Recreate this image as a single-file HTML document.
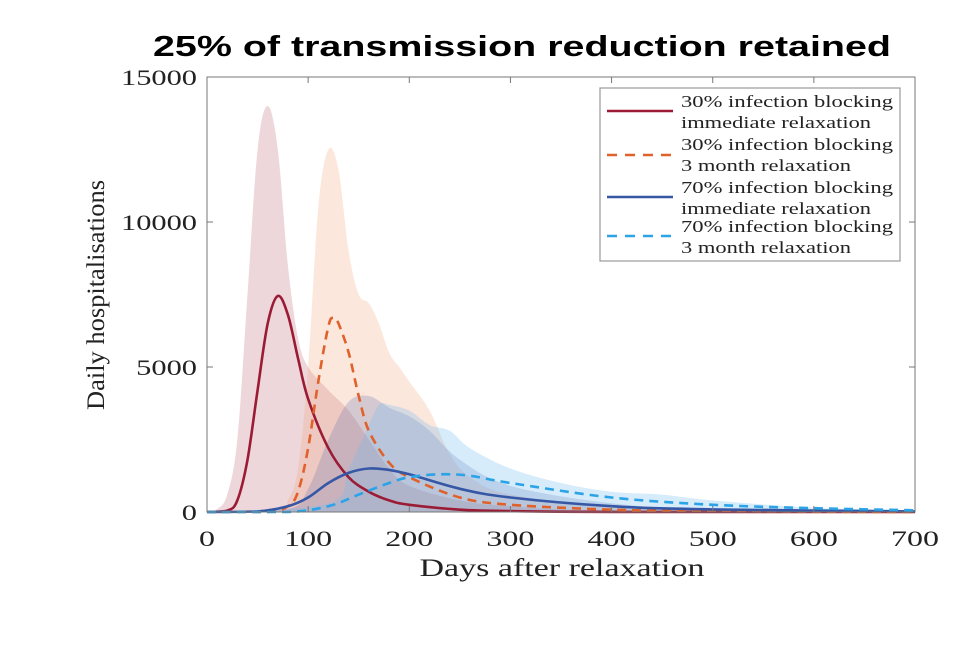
<!DOCTYPE html>
<html><head><meta charset="utf-8"><style>
body{margin:0;background:#fff;}
svg text{font-family:"Liberation Serif",serif;fill:#222;}
</style></head><body>
<svg width="960" height="640" viewBox="0 0 960 640">
<text x="522" y="56" text-anchor="middle" textLength="738" lengthAdjust="spacingAndGlyphs" style="font-family:'Liberation Sans',sans-serif;font-weight:bold;font-size:29px;fill:#000">25% of transmission reduction retained</text>
<g id="bands"></g><g id="lines"></g><g id="axes"></g>
<text x="0" y="0" transform="translate(104,295) rotate(-90)" text-anchor="middle" font-size="25" textLength="230" lengthAdjust="spacingAndGlyphs">Daily hospitalisations</text>
<text x="562" y="576" text-anchor="middle" font-size="25" textLength="285" lengthAdjust="spacingAndGlyphs">Days after relaxation</text>
<g>
<rect x="600" y="88" width="300" height="173" fill="#fff" stroke="#999" stroke-width="1.2"/>
<g><line x1="607" y1="111" x2="673" y2="111" stroke="#9b1b35" stroke-width="2.5"/><text x="681" y="107" font-size="17" textLength="212" lengthAdjust="spacingAndGlyphs">30% infection blocking</text><text x="681" y="128" font-size="17" textLength="190" lengthAdjust="spacingAndGlyphs">immediate relaxation</text></g>
<g><line x1="607" y1="155" x2="673" y2="155" stroke="#e0612a" stroke-width="2.5" stroke-dasharray="10,8"/><text x="681" y="150" font-size="17" textLength="212" lengthAdjust="spacingAndGlyphs">30% infection blocking</text><text x="681" y="171" font-size="17" textLength="170" lengthAdjust="spacingAndGlyphs">3 month relaxation</text></g>
<g><line x1="607" y1="197" x2="673" y2="197" stroke="#3557a5" stroke-width="2.5"/><text x="681" y="193" font-size="17" textLength="212" lengthAdjust="spacingAndGlyphs">70% infection blocking</text><text x="681" y="214" font-size="17" textLength="190" lengthAdjust="spacingAndGlyphs">immediate relaxation</text></g>
<g><line x1="607" y1="236" x2="673" y2="236" stroke="#2ba3e6" stroke-width="2.5" stroke-dasharray="10,8"/><text x="681" y="232" font-size="17" textLength="212" lengthAdjust="spacingAndGlyphs">70% infection blocking</text><text x="681" y="253" font-size="17" textLength="170" lengthAdjust="spacingAndGlyphs">3 month relaxation</text></g>
</g>
</svg>
<script>
const xTicks=[0,100,200,300,400,500,600,700];
const yTicks=[0,5000,10000,15000];
const bandRedDays=[0,10,20,30,40,50,60,70,80,90,100,120,140,160,180,200,250,300,400,700];
const bandRedVals=[0,100,600,2500,7500,12500,14000,12500,8500,6000,5000,4200,3500,2500,1500,900,400,200,50,0];
const bandOrangeDays=[0,70,80,90,100,110,120,130,140,150,160,170,180,190,200,220,240,260,300,400,500,700];
const bandOrangeVals=[0,100,400,1500,5000,10500,12500,11800,9000,7500,7200,6500,5500,5000,4500,3500,2000,1200,600,200,80,0];
const bandDarkBlueDays=[0,80,100,120,140,160,180,200,220,250,300,400,500,700];
const bandDarkBlueVals=[0,100,800,2500,3800,4000,3600,3300,2800,1800,900,300,100,20];
const bandLightBlueDays=[0,120,140,160,170,180,200,220,240,260,300,350,400,450,500,600,700];
const bandLightBlueVals=[0,300,1500,3000,3700,3700,3500,3000,2800,2200,1500,1000,700,600,400,150,50];
const redDays=[0,20,30,40,50,60,70,80,90,100,120,140,160,180,200,250,300,400,700];
const redVals=[0,50,400,1800,4200,6500,7450,6800,5300,3900,2200,1200,700,400,250,80,30,5,0];
const orangeDays=[0,60,80,90,100,110,120,125,130,140,150,160,180,200,250,300,400,500,700];
const orangeVals=[0,0,200,700,2200,4500,6400,6700,6500,5500,4000,2800,1700,1200,500,250,80,30,0];
const darkBlueDays=[0,50,80,100,120,140,160,180,200,250,300,400,500,700];
const darkBlueVals=[0,20,200,500,1000,1350,1500,1450,1300,800,500,200,90,20];
const lightBlueDays=[0,80,120,150,180,200,230,260,300,400,500,600,700];
const lightBlueVals=[0,0,200,600,1000,1200,1300,1250,1000,500,250,130,60];

const X0=207,X1=915,Y0=512,Y1=77;
const sx=d=>X0+(d/700)*(X1-X0);
const sy=v=>Y0-(v/15000)*(Y0-Y1);
const NS="http://www.w3.org/2000/svg";
function smooth(ds,vs){
  const P=ds.map((d,i)=>[sx(d),sy(vs[i])]);
  let s=`M${P[0][0].toFixed(1)},${P[0][1].toFixed(1)}`;
  for(let i=0;i<P.length-1;i++){
    const p0=P[Math.max(0,i-1)],p1=P[i],p2=P[i+1],p3=P[Math.min(P.length-1,i+2)];
    let c1=[p1[0]+(p2[0]-p0[0])/6,p1[1]+(p2[1]-p0[1])/6];
    let c2=[p2[0]-(p3[0]-p1[0])/6,p2[1]-(p3[1]-p1[1])/6];
    c1[1]=Math.min(Y0,c1[1]);c2[1]=Math.min(Y0,c2[1]);
    s+=` C${c1[0].toFixed(1)},${c1[1].toFixed(1)} ${c2[0].toFixed(1)},${c2[1].toFixed(1)} ${p2[0].toFixed(1)},${p2[1].toFixed(1)}`;
  }
  return s;
}
const bands=document.getElementById('bands');
[[bandRedDays,bandRedVals,'rgba(190,110,125,0.28)','band-30-immediate'],
 [bandOrangeDays,bandOrangeVals,'rgba(245,160,120,0.25)','band-30-3month'],
 [bandDarkBlueDays,bandDarkBlueVals,'rgba(95,110,175,0.25)','band-70-immediate'],
 [bandLightBlueDays,bandLightBlueVals,'rgba(110,185,240,0.28)','band-70-3month']].forEach(b=>{
  const p=document.createElementNS(NS,'path');
  p.setAttribute('d',smooth(b[0],b[1])+` L${sx(700)},${sy(0)} L${sx(0)},${sy(0)} Z`);
  p.setAttribute('fill',b[2]);
  
  
  bands.appendChild(p);
});
const lines=document.getElementById('lines');
[[redDays,redVals,'#9b1b35','','line-30-immediate'],
 [orangeDays,orangeVals,'#e0612a','9,6','line-30-3month'],
 [darkBlueDays,darkBlueVals,'#3557a5','','line-70-immediate'],
 [lightBlueDays,lightBlueVals,'#2ba3e6','9,6','line-70-3month']].forEach(l=>{
  const p=document.createElementNS(NS,'path');
  p.setAttribute('d',smooth(l[0],l[1]));
  p.setAttribute('fill','none');p.setAttribute('stroke',l[2]);p.setAttribute('stroke-width','2.6');
  if(l[3])p.setAttribute('stroke-dasharray',l[3]);
  
  
  lines.appendChild(p);
});
const axes=document.getElementById('axes');
const fr=document.createElementNS(NS,'rect');
fr.setAttribute('x',X0);fr.setAttribute('y',Y1);fr.setAttribute('width',X1-X0);fr.setAttribute('height',Y0-Y1);
fr.setAttribute('fill','none');fr.setAttribute('stroke','#777');fr.setAttribute('stroke-width','1');


axes.appendChild(fr);
xTicks.forEach(t=>{
  const x=sx(t);
  const l=document.createElementNS(NS,'path');
  l.setAttribute('d',`M${x},${Y0}v-6M${x},${Y1}v6`);l.setAttribute('stroke','#777');
  
  
  axes.appendChild(l);
  const tx=document.createElementNS(NS,'text');
  tx.setAttribute('x',x);tx.setAttribute('y',546);tx.setAttribute('text-anchor','middle');tx.setAttribute('font-size','22');
  tx.setAttribute('textLength',String(t).length*16);tx.setAttribute('lengthAdjust','spacingAndGlyphs');
  tx.textContent=t;
  
  
  axes.appendChild(tx);
});
yTicks.forEach(t=>{
  const y=sy(t);
  const l=document.createElementNS(NS,'path');
  l.setAttribute('d',`M${X0},${y}h6M${X1},${y}h-6`);l.setAttribute('stroke','#777');
  
  
  axes.appendChild(l);
  const tx=document.createElementNS(NS,'text');
  tx.setAttribute('x',197);tx.setAttribute('y',y+8);tx.setAttribute('text-anchor','end');tx.setAttribute('font-size','22');
  tx.setAttribute('textLength',String(t).length*15.2);tx.setAttribute('lengthAdjust','spacingAndGlyphs');
  tx.textContent=t;
  
  
  axes.appendChild(tx);
});
</script>
</body></html>
